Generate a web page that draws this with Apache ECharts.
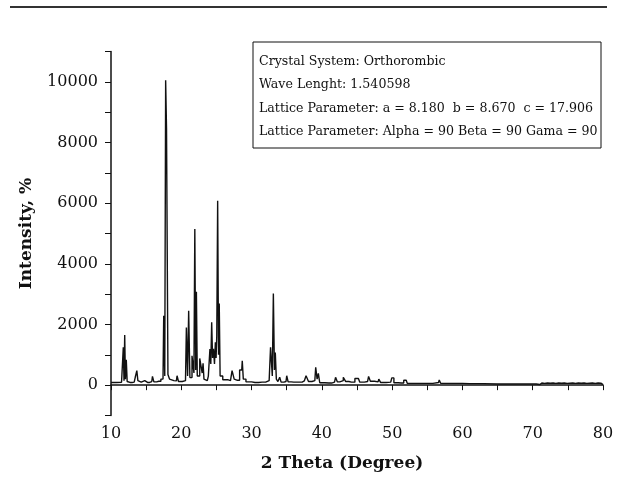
<!DOCTYPE html>
<html>
<head>
<meta charset="utf-8">
<script src="https://cdn.jsdelivr.net/npm/echarts@6/dist/echarts.min.js"></script>
<style>html,body{margin:0;padding:0;background:#fff}#c{width:617px;height:480px}</style>
</head>
<body>
<div id="c"></div>
<script>
// 2-theta positions (degree)
var theta = [
10.0,11.5,11.7,11.8,11.9,12.0,12.1,12.25,12.35,12.7,13.3,13.6,13.75,13.9,14.3,14.8,15.2,15.8,16.0,16.2,
16.8,17.4,17.6,17.7,17.85,17.95,18.25,18.4,18.6,19.3,19.5,19.7,20.6,20.85,20.95,21.15,21.3,21.75,21.85,22.0,
22.1,22.2,22.35,22.9,23.05,23.15,23.3,23.7,24.0,24.15,24.25,24.4,24.5,24.65,24.8,24.9,25.0,25.1,25.25,25.35,
25.45,25.6,26.2,27.0,27.45,27.6,28.0,28.6,28.75,28.9,29.5,30.5,31.5,32.5,32.9,33.0,33.2,33.3,33.45,33.6,
33.9,34.1,34.3,34.9,35.1,35.3,36.0,36.9,37.5,38.0,38.2,39.0,39.25,39.4,39.6,39.8,41.0,41.8,42.1,42.3,
42.8,43.3,43.5,44.2,45.2,45.6,46.5,46.8,47.0,48.0,48.2,48.5,49.8,50.1,50.4,51.3,52.0,52.3,55.0,56.6,
56.8,57.0,59.0,61.0,65.0,70.0,71.0,71.2,71.4,71.6,71.8,72.0,72.2,72.4,72.6,72.8,73.0,73.2,73.4,73.6,
73.8,74.0,74.2,74.4,74.6,74.8,75.0,75.2,75.4,75.6,75.8,76.0,76.2,76.4,76.6,76.8,77.0,77.2,77.4,77.6,
77.8,78.0,78.2,78.4,78.6,78.8,79.0,79.2,79.4,79.6,79.8,80.0
];
// intensity values
var intensity = [
90,95,110,1250,150,1650,200,840,120,90,100,260,480,150,100,150,90,120,290,110,
130,200,2290,300,10050,8450,350,200,150,140,310,120,150,1900,300,2450,250,970,400,5150,
500,3080,300,880,400,720,200,150,300,1190,700,2070,900,1200,700,1410,900,1630,6080,1000,
2690,300,180,150,480,200,160,500,800,200,110,90,100,150,1250,300,3020,500,1080,200,
120,260,100,120,310,110,100,100,140,310,120,150,590,200,390,80,70,100,260,110,
150,260,120,100,220,100,120,290,130,110,200,90,100,240,80,70,160,60,60,90,
170,60,60,50,40,40,20,70,10,60,15,70,10,65,15,70,10,60,20,70,
10,65,15,70,10,60,20,65,10,70,15,60,10,70,15,65,10,70,20,60,
10,65,15,70,10,60,20,70,10,65,10,20
];
var yTickLabels = ['0','2000','4000','6000','8000','10000'];
var infoLines = [
  'Crystal System: Orthorombic',
  'Wave Lenght: 1.540598',
  'Lattice Parameter: a = 8.180  b = 8.670  c = 17.906',
  'Lattice Parameter: Alpha = 90 Beta = 90 Gama = 90'
];

var chart = echarts.init(document.getElementById('c'), null, {renderer:'canvas'});
var serif = 'DejaVu Serif';
var data = theta.map(function(t,i){return [t, intensity[i]];});
var graphics = [
  {type:'line', shape:{x1:10,y1:7,x2:607,y2:7}, style:{stroke:'#333',lineWidth:2}},
  {type:'rect', shape:{x:253,y:42,width:348,height:106}, style:{fill:'#fff',stroke:'#111',lineWidth:1}}
];
infoLines.forEach(function(s,i){
  graphics.push({type:'text', x:259, y:62+i*23.2, style:{text:s, font:'12.6px "DejaVu Serif"', fill:'#111', textVerticalAlign:'middle'}});
});
chart.setOption({
  animation:false,
  grid:{left:111, right:14, top:51.5, bottom:64.5, containLabel:false},
  xAxis:{
    type:'value', min:10, max:80, interval:5,
    name:'2 Theta (Degree)', nameLocation:'middle', nameGap:40,
    nameTextStyle:{fontFamily:serif, fontWeight:'bold', fontSize:17, color:'#111', padding:[0,30,0,0]},
    axisLine:{lineStyle:{color:'#111', width:1.5}},
    axisTick:{length:5, lineStyle:{color:'#111'}},
    splitLine:{show:false},
    axisLabel:{fontFamily:serif, fontSize:16, color:'#111', margin:10,
      formatter:function(v){return v%10===0?String(v):'';}}
  },
  yAxis:{
    type:'value', min:-1000, max:11000, interval:1000,
    name:'Intensity, %', nameLocation:'middle', nameGap:76, nameRotate:90,
    nameTextStyle:{fontFamily:serif, fontWeight:'bold', fontSize:17, color:'#111'},
    axisLine:{lineStyle:{color:'#111', width:1.5}},
    axisTick:{length:6, lineStyle:{color:'#111'}},
    splitLine:{show:false},
    axisLabel:{fontFamily:serif, fontSize:16, color:'#111', margin:13,
      formatter:function(v){var s=String(v);return yTickLabels.indexOf(s)>=0?s:'';}}
  },
  series:[{type:'line', step:'middle', data:data, symbol:'none', lineStyle:{color:'#111', width:1.4}}],
  graphic:graphics
});
</script>
</body>
</html>
